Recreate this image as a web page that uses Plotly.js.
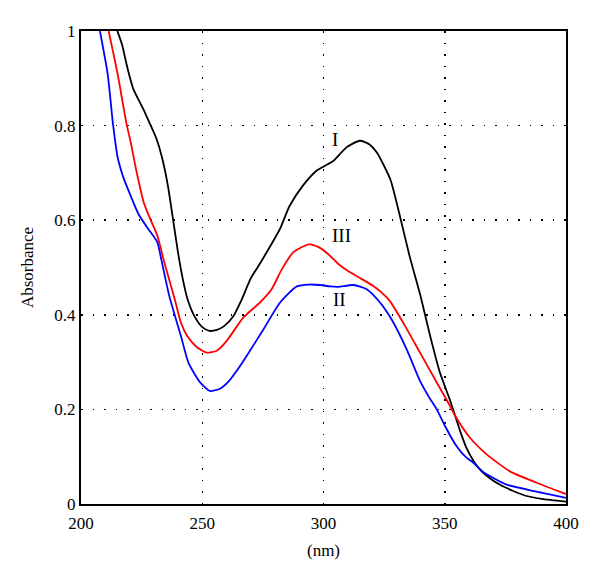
<!DOCTYPE html>
<html>
<head>
<meta charset="utf-8">
<script src="https://cdn.plot.ly/plotly-3.0.1.min.js"></script>
<style>html,body{margin:0;padding:0;background:#fff;}#chart{width:600px;height:585px;}</style>
</head>
<body>
<div id="chart"></div>
<script>
// Curve I (black)
const xI = [215, 217, 219, 221.6, 225.7, 228.5, 231.2, 233.9, 236, 238, 240, 242, 244, 247, 250, 253, 256, 259, 262.8, 266.5, 270, 274, 278.5, 282, 286, 291.5, 297, 301, 304, 309.5, 315, 319, 322, 327.5, 331.5, 335.5, 340, 344, 348, 352, 354.2, 356.5, 359, 362, 365, 369, 373, 378, 383, 390, 400];
const yI = [1.0, 0.970, 0.925, 0.877, 0.835, 0.803, 0.771, 0.722, 0.668, 0.600, 0.532, 0.475, 0.432, 0.395, 0.374, 0.366, 0.368, 0.376, 0.397, 0.435, 0.477, 0.51, 0.549, 0.581, 0.63, 0.673, 0.704, 0.716, 0.725, 0.754, 0.768, 0.760, 0.743, 0.687, 0.609, 0.524, 0.44, 0.355, 0.278, 0.222, 0.188, 0.152, 0.118, 0.09, 0.07, 0.053, 0.04, 0.028, 0.018, 0.011, 0.005];
// Curve II (blue)
const xII = [207.8, 211, 213.2, 215.1, 217.5, 220.2, 223.8, 227.8, 229.8, 231.5, 233.2, 236.4, 241.2, 244.3, 249.1, 253.2, 257, 261, 265.6, 268.3, 275.2, 282.1, 289, 294, 298.6, 302.7, 306, 312.3, 317.8, 323.3, 328.1, 334.3, 340, 343.5, 346.7, 350.1, 354.9, 358.5, 361.8, 366, 370, 375.5, 387.9, 400];
const yII = [1.0, 0.909, 0.803, 0.733, 0.69, 0.655, 0.612, 0.581, 0.567, 0.553, 0.515, 0.44, 0.355, 0.299, 0.257, 0.239, 0.243, 0.26, 0.292, 0.313, 0.369, 0.426, 0.460, 0.464, 0.463, 0.460, 0.459, 0.463, 0.454, 0.426, 0.390, 0.327, 0.258, 0.226, 0.2, 0.165, 0.122, 0.1, 0.087, 0.067, 0.055, 0.041, 0.026, 0.013];
// Curve III (red)
const xIII = [211.4, 215.1, 218.8, 220.5, 222.8, 225.9, 228.6, 231.5, 234.4, 238.8, 241.3, 243.8, 247.7, 251.8, 256, 260.1, 266.9, 273.8, 278.6, 282.8, 287.5, 294, 298, 302, 306, 310, 315, 320.5, 324, 327.4, 332.9, 339.8, 346.7, 352.2, 354.2, 360.4, 367.3, 376.9, 387.9, 400];
const yIII = [1.0, 0.909, 0.803, 0.765, 0.705, 0.637, 0.602, 0.567, 0.51, 0.43, 0.382, 0.355, 0.332, 0.320, 0.324, 0.345, 0.394, 0.426, 0.454, 0.496, 0.532, 0.549, 0.543, 0.528, 0.508, 0.493, 0.478, 0.461, 0.447, 0.429, 0.383, 0.320, 0.257, 0.207, 0.187, 0.140, 0.105, 0.069, 0.045, 0.021];

const xTicks = [200, 250, 300, 350, 400];
const yTicks = [0, 0.2, 0.4, 0.6, 0.8, 1];
const yTickText = ['0', '0.2', '0.4', '0.6', '0.8', '1'];
const curveLabels = ['I', 'II', 'III'];
const labelX = [304.7, 306.4, 307.5];
const labelY = [0.771, 0.433, 0.567];

const font = 'Liberation Serif, Times New Roman, serif';
const traces = [
  {x: xI, y: yI, name: 'I', color: '#000000'},
  {x: xIII, y: yIII, name: 'III', color: '#ff0000'},
  {x: xII, y: yII, name: 'II', color: '#0000ff'}
].map(t => ({x: t.x, y: t.y, name: t.name, type: 'scatter', mode: 'lines',
  line: {color: t.color, width: 1.8, shape: 'spline', smoothing: 0.6}, hoverinfo: 'skip'}));

const layout = {
  width: 600, height: 585,
  margin: {l: 81, r: 34, t: 31, b: 81},
  paper_bgcolor: '#fff', plot_bgcolor: '#fff',
  showlegend: false,
  font: {family: font, color: '#000', size: 17},
  xaxis: {
    range: [200, 400], tickvals: xTicks, ticktext: xTicks.map(String),
    showline: true, linecolor: '#000', linewidth: 2, mirror: true,
    showgrid: true, gridcolor: '#000', gridwidth: 1.5, griddash: '1.5px,10px',
    zeroline: false, ticks: '', ticklabelstandoff: 3, tickfont: {family: font, size: 17},
    title: {text: '(nm)', font: {family: font, size: 17}, standoff: 12}
  },
  yaxis: {
    range: [0, 1], tickvals: yTicks, ticktext: yTickText,
    showline: true, linecolor: '#000', linewidth: 2, mirror: true,
    showgrid: true, gridcolor: '#000', gridwidth: 1.5, griddash: '1.5px,10px',
    zeroline: false, ticks: '', tickfont: {family: font, size: 17},
    title: {text: 'Absorbance', font: {family: font, size: 17}, standoff: 16}
  },
  annotations: curveLabels.map((t, i) => ({
    x: labelX[i], y: labelY[i], xref: 'x', yref: 'y', text: t, showarrow: false,
    font: {family: font, size: 19, color: '#000'}
  }))
};

Plotly.newPlot('chart', traces, layout, {displayModeBar: false, staticPlot: true});
</script>
</body>
</html>
